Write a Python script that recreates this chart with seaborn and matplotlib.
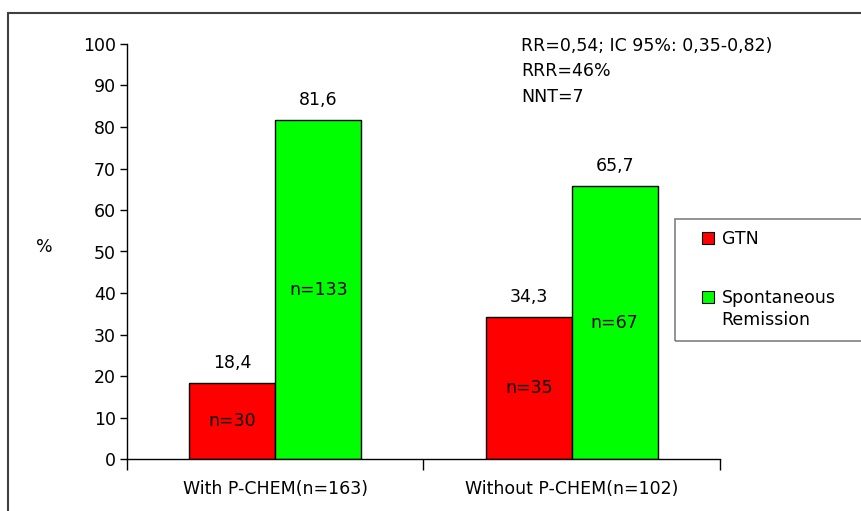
import matplotlib
matplotlib.use("Agg")
import matplotlib.pyplot as plt
import pandas as pd
import seaborn as sns
from matplotlib.lines import Line2D
from matplotlib.patches import Rectangle

GROUPS = ["With P-CHEM(n=163)", "Without P-CHEM(n=102)"]
SERIES = ["GTN", "Spontaneous Remission"]
LEGEND_LINES = ["GTN", "Spontaneous", "Remission"]
GTN_PCT = [18.4, 34.3]
SPONT_PCT = [81.6, 65.7]
GTN_N = [30, 35]
SPONT_N = [133, 67]
COLORS = ["#FF0000", "#00FF00"]
STATS_TEXT = ["RR=0,54; IC 95%: 0,35-0,82)", "RRR=46%", "NNT=7"]

sns.set_style("white")
plt.rcParams["font.family"] = ["DejaVu Sans"]
plt.rcParams["text.color"] = "black"
plt.rcParams["xtick.color"] = "black"
plt.rcParams["ytick.color"] = "black"

df = pd.DataFrame(
    {
        "group": GROUPS * 2,
        "series": [SERIES[0]] * 2 + [SERIES[1]] * 2,
        "pct": GTN_PCT + SPONT_PCT,
        "n": GTN_N + SPONT_N,
    }
)

W, H = 862, 511
fig = plt.figure(figsize=(W / 100, H / 100), dpi=100)
ax = fig.add_axes([127 / W, 1 - 459 / H, (720 - 127) / W, (459 - 44) / H])

sns.barplot(
    data=df,
    x="group",
    y="pct",
    hue="series",
    hue_order=SERIES,
    palette=COLORS,
    saturation=1,
    width=0.58,
    edgecolor="black",
    linewidth=1.0,
    legend=False,
    ax=ax,
)

fs = 12.5
for container, series in zip(ax.containers, SERIES):
    sub = df[df["series"] == series]
    ax.bar_label(container, labels=[f"{v:.1f}".replace(".", ",") for v in sub["pct"]],
                 padding=8, fontsize=fs)
    ax.bar_label(container, labels=[f"n={v}" for v in sub["n"]],
                 label_type="center", fontsize=fs)

ax.set_ylim(0, 100)
ax.set_xlim(-0.5, 1.5)
ax.set_yticks(range(0, 101, 10))
ax.set_xlabel("")
ax.set_ylabel("")
ax.tick_params(axis="y", length=5, width=1, labelsize=fs, pad=3, left=True)
ax.tick_params(axis="x", which="major", length=0, labelsize=fs, pad=15)
ax.set_xticks([-0.5, 0.5, 1.5], minor=True)
ax.tick_params(axis="x", which="minor", length=8, width=1, bottom=True)
for side in ["top", "right"]:
    ax.spines[side].set_visible(False)
for side in ["left", "bottom"]:
    ax.spines[side].set_color("black")
    ax.spines[side].set_linewidth(1)

fig.text(44 / W, 1 - 247 / H, "%", fontsize=fs, ha="center", va="center")

for i, line in enumerate(STATS_TEXT):
    fig.text(521 / W, 1 - (46 + 25.5 * i) / H, line, fontsize=fs, ha="left", va="center")

# legend; handles sit on the first line of each label
handles = [
    Line2D([], [], marker="s", linestyle="none", markersize=8,
           markerfacecolor=c, markeredgecolor="black", markeredgewidth=0.8)
    for c in COLORS
]
fig.legend(handles, LEGEND_LINES[:2], loc="upper left", bbox_to_anchor=(694 / W, 1 - 223 / H),
           frameon=False, fontsize=fs, handlelength=0.8, handletextpad=0.4,
           labelspacing=2.35, borderaxespad=0)
fig.text(721 / W, 1 - 320 / H, LEGEND_LINES[2], fontsize=fs, ha="left", va="center")
fig.patches.append(Rectangle((675 / W, 1 - 341 / H), 200 / W, 122 / H,
                             transform=fig.transFigure, fill=False,
                             edgecolor="#808080", linewidth=1.2, clip_on=False))

# outer chart frame
fig.patches.append(Rectangle((8 / W, -0.1), 1.2, 1.1 - 13 / H,
                             transform=fig.transFigure, fill=False,
                             edgecolor="#404040", linewidth=1.5, clip_on=False))

fig.savefig("out.png", dpi=100)
